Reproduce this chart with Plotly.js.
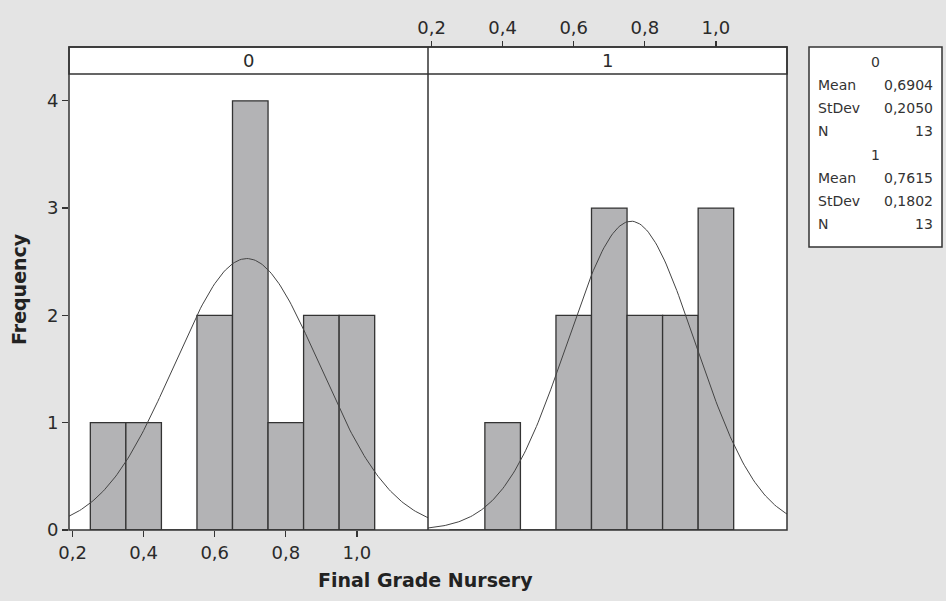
<!DOCTYPE html>
<html>
<head>
<meta charset="utf-8">
<script src="https://cdn.plot.ly/plotly-3.0.1.min.js"></script>
<style>html,body{margin:0;padding:0;background:#e4e4e4;}</style>
</head>
<body>
<div id="chart" style="width:946px;height:601px;"></div>
<script>
// ---- data ----
const binCenters = [0.3, 0.4, 0.5, 0.6, 0.7, 0.8, 0.9, 1.0];
const counts0 = [1, 1, 0, 2, 4, 1, 2, 2];
const counts1 = [0, 1, 0, 2, 3, 2, 2, 3];
const groups = ['0', '1'];
const means = [0.6904, 0.7615];
const stdevs = [0.2050, 0.1802];
const ns = [13, 13];
const binWidth = 0.1;
const xTickVals = [0.2, 0.4, 0.6, 0.8, 1.0];
const yTickVals = [0, 1, 2, 3, 4];
const xTitle = 'Final Grade Nursery';
const yTitle = 'Frequency';

// ---- geometry helpers ----
const W = 946, H = 601;
const L = 69, R = 787, T = 47, B = 530;
const stripBottom = 74;
const px = x => (x - L) / (R - L);
const py = y => (B - y) / (B - T);
const yDomTop = py(stripBottom);
const xRange = [0.19, 1.2];

// fitted normal curve from shown mean / stdev
function normalCurve(mu, sd, n) {
  const xs = [], ys = [];
  for (let i = 0; i <= 202; i++) {
    const x = xRange[0] + (xRange[1] - xRange[0]) * i / 202;
    xs.push(x);
    ys.push(n * binWidth / (sd * Math.sqrt(2 * Math.PI)) * Math.exp(-0.5 * Math.pow((x - mu) / sd, 2)));
  }
  return {xs, ys};
}
const c0 = normalCurve(means[0], stdevs[0], ns[0]);
const c1 = normalCurve(means[1], stdevs[1], ns[1]);

const barFill = '#b3b3b5';
const edge = '#333333';
const fam = 'DejaVu Sans, Verdana, sans-serif';

const traces = [
  {type: 'bar', x: binCenters, y: counts0, width: binWidth, xaxis: 'x', yaxis: 'y',
   marker: {color: barFill, line: {color: edge, width: 1.3}}, hoverinfo: 'x+y', showlegend: false},
  {type: 'bar', x: binCenters, y: counts1, width: binWidth, xaxis: 'x2', yaxis: 'y',
   marker: {color: barFill, line: {color: edge, width: 1.3}}, hoverinfo: 'x+y', showlegend: false},
  {type: 'scatter', mode: 'lines', x: c0.xs, y: c0.ys, xaxis: 'x', yaxis: 'y',
   line: {color: '#444', width: 1}, showlegend: false, hoverinfo: 'skip'},
  {type: 'scatter', mode: 'lines', x: c1.xs, y: c1.ys, xaxis: 'x3', yaxis: 'y',
   line: {color: '#444', width: 1}, showlegend: false, hoverinfo: 'skip'}
];

const tickFont = {family: fam, size: 18, color: '#2a2a2a'};
const baseX = {range: xRange, showgrid: false, zeroline: false, showline: false, fixedrange: true};

const shapes = [
  {type: 'rect', xref: 'paper', yref: 'paper', x0: 0, x1: 1, y0: yDomTop, y1: 1,
   fillcolor: 'white', line: {color: edge, width: 1.5}},
  {type: 'rect', xref: 'paper', yref: 'paper', x0: 0, x1: 1, y0: 0, y1: 1,
   line: {color: edge, width: 1.5}},
  {type: 'line', xref: 'paper', yref: 'paper', x0: 0.5, x1: 0.5, y0: 0, y1: 1,
   line: {color: edge, width: 1.5}},
  // stats box
  {type: 'rect', xref: 'paper', yref: 'paper', x0: px(809), x1: px(942), y0: py(247), y1: py(47),
   fillcolor: 'white', line: {color: edge, width: 1.5}}
];

const annotations = [
  {xref: 'paper', yref: 'paper', x: 0.25, y: (yDomTop + 1) / 2, text: groups[0], showarrow: false,
   xanchor: 'center', yanchor: 'middle', font: {family: fam, size: 18, color: '#2a2a2a'}},
  {xref: 'paper', yref: 'paper', x: 0.75, y: (yDomTop + 1) / 2, text: groups[1], showarrow: false,
   xanchor: 'center', yanchor: 'middle', font: {family: fam, size: 18, color: '#2a2a2a'}},
  {xref: 'paper', yref: 'paper', x: px(425), y: py(580), text: '<b>' + xTitle + '</b>', showarrow: false,
   xanchor: 'center', yanchor: 'middle', font: {family: fam, size: 19, color: '#222'}},
  {xref: 'paper', yref: 'paper', x: px(19), y: py(289), text: '<b>' + yTitle + '</b>', showarrow: false,
   textangle: -90, xanchor: 'center', yanchor: 'middle', font: {family: fam, size: 19, color: '#222'}}
];

const lf = {family: fam, size: 14, color: '#333'};
const fmt = v => v.toFixed(4).replace('.', ',');
groups.forEach((g, i) => {
  const y0 = 62 + i * 93;
  annotations.push({xref: 'paper', yref: 'paper', x: px(876), y: py(y0), text: g, showarrow: false,
    xanchor: 'center', yanchor: 'middle', font: lf});
  const rows = [['Mean', fmt(means[i])], ['StDev', fmt(stdevs[i])], ['N', String(ns[i])]];
  rows.forEach((r, k) => {
    const yy = y0 + 23 * (k + 1);
    annotations.push({xref: 'paper', yref: 'paper', x: px(816), y: py(yy), text: r[0], showarrow: false,
      xanchor: 'left', yanchor: 'middle', font: lf});
    annotations.push({xref: 'paper', yref: 'paper', x: px(935), y: py(yy), text: r[1], showarrow: false,
      xanchor: 'right', yanchor: 'middle', font: lf});
  });
});

const layout = {
  width: W, height: H,
  margin: {l: L, r: W - R, t: T, b: H - B, pad: 0},
  paper_bgcolor: '#e4e4e4',
  plot_bgcolor: 'white',
  separators: ',.',
  showlegend: false,
  barmode: 'overlay',
  xaxis: Object.assign({}, baseX, {domain: [0, 0.5], anchor: 'y', tickvals: xTickVals, tickformat: '.1f',
    ticks: 'outside', ticklen: 6, tickwidth: 1.3, tickcolor: edge, tickfont: tickFont}),
  xaxis2: Object.assign({}, baseX, {domain: [0.5, 1], anchor: 'y', showticklabels: false, ticks: ''}),
  xaxis3: Object.assign({}, baseX, {domain: [0.5, 1], overlaying: 'x2', side: 'top', anchor: 'free', position: 1,
    tickvals: xTickVals, tickformat: '.1f', ticks: 'outside', ticklen: 6, tickwidth: 1.3, tickcolor: edge,
    tickfont: tickFont}),
  yaxis: {domain: [0, yDomTop], range: [0, 4.25], tickvals: yTickVals, ticks: 'outside', ticklen: 6,
    tickwidth: 1.3, tickcolor: edge, tickfont: tickFont, showgrid: false, zeroline: false, showline: false,
    fixedrange: true},
  shapes: shapes,
  annotations: annotations
};

Plotly.newPlot('chart', traces, layout, {displayModeBar: false, staticPlot: true});
</script>
</body>
</html>
